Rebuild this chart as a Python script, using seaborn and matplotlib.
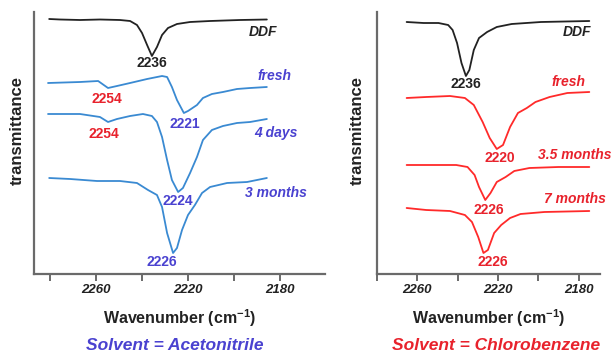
import matplotlib
matplotlib.use("Agg")
import matplotlib.pyplot as plt
import seaborn as sns
import pandas as pd

# ---------------- data (wavenumber in cm-1, transmittance in a.u., stacked) ----------------
# Left panel: solvent = acetonitrile
acn_ddf_wn = [2280.4, 2275.7, 2267.0, 2258.3, 2249.6, 2245.2, 2242.2, 2240.0, 2237.8, 2235.7,
              2233.5, 2231.3, 2228.7, 2224.8, 2219.1, 2210.4, 2197.4, 2185.7]
acn_ddf_t = [255, 254.5, 254, 254.5, 254, 253, 249, 241, 229, 218,
             227, 239, 246, 250, 252, 253, 254, 254.5]

acn_fresh_wn = [2280.9, 2267.0, 2259.1, 2254.8, 2250.9, 2245.2, 2237.8, 2231.3, 2229.1, 2227.0,
                2224.8, 2221.8, 2220.0, 2216.1, 2213.5, 2209.6, 2204.8, 2198.7, 2193.0, 2185.7]
acn_fresh_t = [191, 192, 193, 186, 188, 191, 195, 198, 197, 187,
               174, 161, 163, 169, 176, 180, 182, 185, 186, 187]

acn_4d_wn = [2280.9, 2267.0, 2258.3, 2254.8, 2250.9, 2245.2, 2239.6, 2235.7, 2233.5, 2231.3, 2229.1,
             2227.0, 2224.3, 2222.2, 2219.1, 2216.1, 2213.5, 2209.6, 2204.8, 2198.7, 2193.0, 2185.7]
acn_4d_t = [160, 160, 157, 152, 155, 158, 160, 158, 152, 137, 114,
            94, 82, 86, 101, 117, 134, 144, 148, 151, 152, 155]

acn_3m_wn = [2280.4, 2271.3, 2259.6, 2249.6, 2242.2, 2237.4, 2233.5, 2231.3, 2229.1, 2226.5,
             2224.8, 2222.6, 2220.0, 2217.0, 2213.9, 2210.4, 2203.0, 2194.3, 2185.7]
acn_3m_t = [96, 95, 93, 93, 91, 84, 79, 67, 41, 21,
            26, 44, 59, 69, 81, 87, 91, 92, 96]

# Right panel: solvent = chlorobenzene
cb_ddf_wn = [2265.3, 2256.9, 2249.5, 2244.7, 2242.5, 2240.3, 2238.1, 2235.9, 2234.2, 2232.0,
             2229.4, 2225.4, 2220.6, 2213.2, 2198.7, 2174.7]
cb_ddf_t = [252, 251, 251, 249, 244, 231, 211, 198, 204, 224,
            236, 242, 247, 250, 252, 253]

cb_fresh_wn = [2265.3, 2255.6, 2243.8, 2236.4, 2232.0, 2227.6, 2224.1, 2220.6, 2217.5, 2214.0,
               2210.1, 2205.7, 2201.4, 2194.4, 2185.6, 2174.7]
cb_fresh_t = [176, 177, 178, 176, 169, 152, 136, 125, 129, 147,
              161, 166, 172, 177, 181, 182]

cb_35m_wn = [2265.3, 2252.6, 2240.7, 2235.1, 2231.6, 2229.4, 2226.3, 2223.7, 2220.6, 2216.2,
             2211.9, 2204.4, 2190.0, 2174.7]
cb_35m_t = [109, 109, 109, 107, 99, 87, 74, 81, 92, 97,
            103, 106, 107, 107]

cb_7m_wn = [2265.3, 2255.6, 2243.8, 2236.4, 2232.9, 2229.8, 2227.2, 2225.0, 2221.9, 2218.4,
            2214.0, 2208.8, 2197.0, 2174.7]
cb_7m_t = [66, 64, 63, 59, 52, 37, 21, 24, 41, 49,
           56, 60, 62, 63]

tick_values = [2280, 2260, 2240, 2220, 2200, 2180]
tick_labels = ["", "2260", "", "2220", "", "2180"]

# ---------------- styling ----------------
sns.set_theme(style="white")
plt.rcParams["font.family"] = ["Liberation Sans", "DejaVu Sans"]
plt.rcParams["mathtext.fontset"] = "custom"
plt.rcParams["mathtext.rm"] = "Liberation Sans:bold"
plt.rcParams["mathtext.it"] = "Liberation Sans:bold"
plt.rcParams["mathtext.bf"] = "Liberation Sans:bold"

C_BLACK = "#222222"
C_BLUE_LINE = "#3a8ad2"
C_BLUE_TXT = "#4a42d0"
C_RED_LINE = "#ff2a2a"
C_RED_TXT = "#e8222c"
C_AXIS = "#6a6a6a"

fig = plt.figure(figsize=(6.11, 3.54), dpi=100)
axL = fig.add_axes([34 / 611, 80 / 354, 291 / 611, 262 / 354])
axR = fig.add_axes([377 / 611, 80 / 354, 223 / 611, 262 / 354])


def draw(ax, wn, t, color):
    df = pd.DataFrame({"wn": wn, "t": t})
    sns.lineplot(data=df, x="wn", y="t", ax=ax, color=color, lw=1.3,
                 sort=False, estimator=None)


draw(axL, acn_ddf_wn, acn_ddf_t, C_BLACK)
draw(axL, acn_fresh_wn, acn_fresh_t, C_BLUE_LINE)
draw(axL, acn_4d_wn, acn_4d_t, C_BLUE_LINE)
draw(axL, acn_3m_wn, acn_3m_t, C_BLUE_LINE)

draw(axR, cb_ddf_wn, cb_ddf_t, C_BLACK)
draw(axR, cb_fresh_wn, cb_fresh_t, C_RED_LINE)
draw(axR, cb_35m_wn, cb_35m_t, C_RED_LINE)
draw(axR, cb_7m_wn, cb_7m_t, C_RED_LINE)

axL.set_xlim(2287.0, 2160.4)
axR.set_xlim(2267.0, 2169.4)
for ax in (axL, axR):
    ax.set_ylim(0, 262)
    ax.set_yticks([])
    ax.set_xticks(tick_values)
    ax.set_xticklabels(tick_labels, fontsize=9.5, fontweight="bold", fontstyle="italic",
                       color=C_BLACK)
    ax.tick_params(axis="x", direction="out", length=5, width=1.4, color=C_AXIS, pad=2,
                   bottom=True)
    for s in ("top", "right"):
        ax.spines[s].set_visible(False)
    for s in ("left", "bottom"):
        ax.spines[s].set_color(C_AXIS)
        ax.spines[s].set_linewidth(1.6)
    ax.set_ylabel("transmittance", fontsize=12, fontweight="bold", color=C_BLACK)
    ax.set_xlabel("Wavenumber (cm$^{-1}$)", fontsize=11.5, fontweight="bold", color=C_BLACK,
                  labelpad=8)
    ax.patch.set_alpha(0)

axL.yaxis.set_label_coords(-0.031, 0.546)
axR.yaxis.set_label_coords(-0.054, 0.546)

num_kw = dict(fontsize=10, fontweight="bold", ha="center", va="center")
lab_kw = dict(fontsize=10, fontweight="bold", fontstyle="italic", ha="center", va="center")

# left annotations
axL.text(2235.7, 211, "2236", color=C_BLACK, **num_kw)
axL.text(2187.4, 242, "DDF", color=C_BLACK, **lab_kw)
axL.text(2182.2, 198, "fresh", color=C_BLUE_TXT, **lab_kw)
axL.text(2255.2, 175, "2254", color=C_RED_TXT, **num_kw)
axL.text(2221.3, 150, "2221", color=C_BLUE_TXT, **num_kw)
axL.text(2181.7, 141, "4 days", color=C_BLUE_TXT, **lab_kw)
axL.text(2256.5, 140, "2254", color=C_RED_TXT, **num_kw)
axL.text(2224.3, 73, "2224", color=C_BLUE_TXT, **num_kw)
axL.text(2181.7, 81, "3 months", color=C_BLUE_TXT, **lab_kw)
axL.text(2231.3, 12, "2226", color=C_BLUE_TXT, **num_kw)

# right annotations
axR.text(2180.8, 242, "DDF", color=C_BLACK, **lab_kw)
axR.text(2235.9, 190, "2236", color=C_BLACK, **num_kw)
axR.text(2185.2, 192, "fresh", color=C_RED_TXT, **lab_kw)
axR.text(2219.3, 116, "2220", color=C_RED_TXT, **num_kw)
axR.text(2181.7, 119, "3.5 months", color=C_RED_TXT, **lab_kw)
axR.text(2224.6, 64, "2226", color=C_RED_TXT, **num_kw)
axR.text(2181.7, 75, "7 months", color=C_RED_TXT, **lab_kw)
axR.text(2222.4, 12, "2226", color=C_RED_TXT, **num_kw)

fig.text(175 / 611, 1 - 345 / 354, "Solvent = Acetonitrile", color=C_BLUE_TXT, fontsize=12.5,
         fontweight="bold", fontstyle="italic", ha="center", va="center")
fig.text(496 / 611, 1 - 345 / 354, "Solvent = Chlorobenzene", color=C_RED_TXT, fontsize=12.5,
         fontweight="bold", fontstyle="italic", ha="center", va="center")

fig.savefig("out.png", dpi=100)
